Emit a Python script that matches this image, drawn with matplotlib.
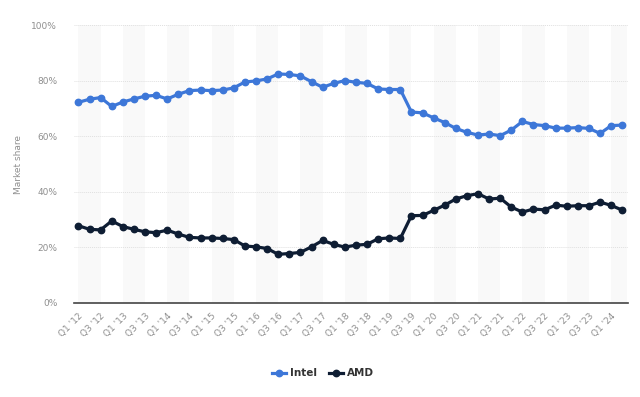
import matplotlib
matplotlib.use("Agg")
import matplotlib.pyplot as plt

quarters = [f"Q{q} '{y:02d}" for y in range(12, 25) for q in range(1, 5)][:50]

intel = [72.2, 73.3, 73.9, 70.7, 72.3, 73.4, 74.4, 74.7, 73.4, 75.1,
         76.4, 76.6, 76.4, 76.6, 77.4, 79.5, 79.9, 80.6, 82.4, 82.2,
         81.7, 79.6, 77.6, 79.0, 80.0, 79.4, 79.0, 77.0, 76.8, 76.8,
         68.7, 68.4, 66.6, 64.9, 62.8, 61.4, 60.4, 60.8, 60.2, 62.2,
         65.3, 64.2, 63.8, 62.9, 62.9, 63.1, 62.8, 61.0, 63.8, 64.0]

amd = [27.8, 26.5, 26.3, 29.5, 27.5, 26.5, 25.6, 25.3, 26.2, 24.8,
       23.6, 23.4, 23.4, 23.2, 22.8, 20.5, 20.2, 19.6, 17.5, 17.8,
       18.2, 20.2, 22.5, 21.1, 20.1, 20.8, 21.1, 23.1, 23.4, 23.2,
       31.4, 31.5, 33.3, 35.2, 37.4, 38.6, 39.3, 37.4, 37.7, 34.5,
       32.7, 33.8, 33.5, 35.2, 34.8, 35.0, 35.0, 36.3, 35.1, 33.4]

y_ticks = [0, 20, 40, 60, 80, 100]


def main():
    fig = plt.figure(figsize=(6.4, 3.97), dpi=100)
    ax = fig.add_axes([0.1156, 0.2368, 0.8654, 0.7002])
    x = list(range(len(quarters)))

    # alternating background bands, two quarters wide
    for i in range(0, len(quarters), 4):
        ax.axvspan(i, min(i + 2, len(quarters) - 0.6), color="#f9f9f9", zorder=0, lw=0)

    for yv in y_ticks[1:]:
        ax.axhline(yv, color="#e0e0e0", lw=0.7, ls=(0, (1, 1)), zorder=1)

    ax.plot(x, intel, color="#3d77d8", lw=2.3, marker="o", ms=4.6, label="Intel", zorder=3)
    ax.plot(x, amd, color="#0e1d33", lw=2.3, marker="o", ms=4.6, label="AMD", zorder=3)

    ax.set_xlim(-0.4, 49.5)
    ax.set_ylim(0, 100)
    ax.set_yticks(y_ticks)
    ax.set_yticklabels([f"{v}%" for v in y_ticks])
    ax.set_xticks(x[::2])
    ax.set_xticklabels(quarters[::2], rotation=45, ha="right", rotation_mode="anchor")
    ax.tick_params(axis="both", length=0, labelsize=6.5, labelcolor="#8f8f8f")
    ax.tick_params(axis="x", pad=6)
    ax.tick_params(axis="y", pad=12)
    ax.set_ylabel("Market share", fontsize=6.5, color="#8f8f8f", labelpad=6)

    for side in ["top", "right", "left"]:
        ax.spines[side].set_visible(False)
    ax.spines["bottom"].set_color("#444444")
    ax.spines["bottom"].set_linewidth(1.2)

    leg = fig.legend(loc="center", bbox_to_anchor=(0.505, 0.06), ncol=2, frameon=False,
                     fontsize=7.5, handlelength=1.3, columnspacing=1.2, handletextpad=0.4)
    for t in leg.get_texts():
        t.set_color("#333333")
        t.set_fontweight("bold")

    fig.savefig("out.png", dpi=100)


if __name__ == "__main__":
    main()
